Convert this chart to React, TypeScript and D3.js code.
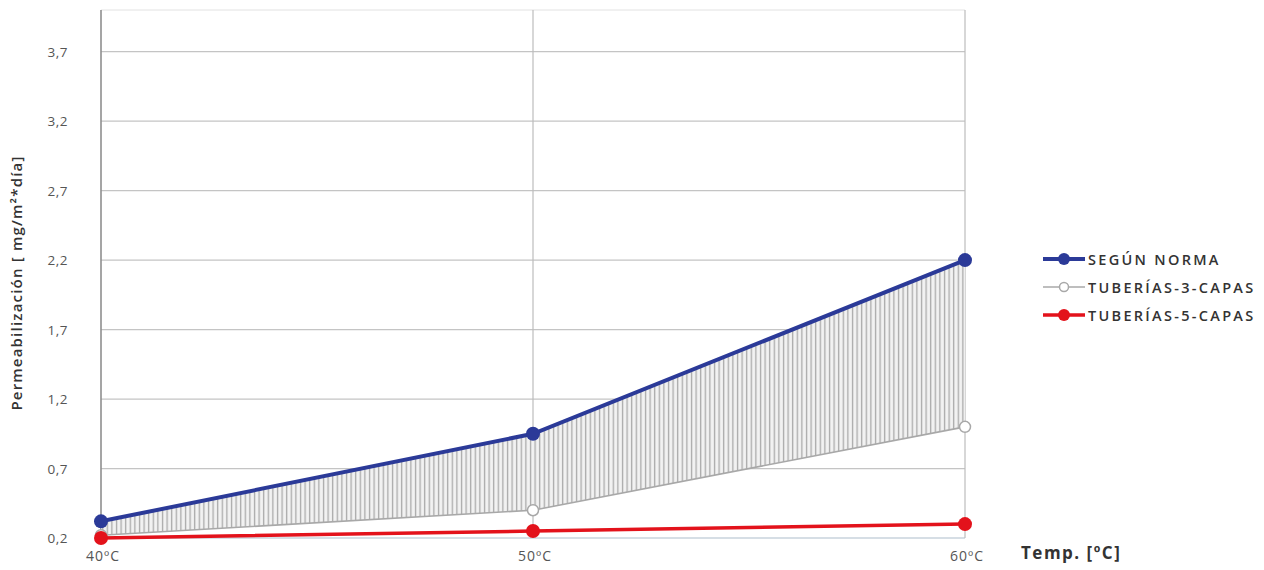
import React from "react";
import * as d3 from "d3";

const categories = ["40ºC", "50ºC", "60ºC"];
const seguNorma = [0.32, 0.95, 2.2];
const tuberias3 = [0.22, 0.4, 1.0];
const tuberias5 = [0.2, 0.25, 0.3];
const yTicks = [0.2, 0.7, 1.2, 1.7, 2.2, 2.7, 3.2, 3.7];
const seriesNames = ["SEGÚN NORMA", "TUBERÍAS-3-CAPAS", "TUBERÍAS-5-CAPAS"];

const W = 1264;
const H = 570;
const BLUE = "#2b3a98";
const RED = "#e3121b";
const GRAY = "#a8a8a8";
const FONT = "'Open Sans', 'DejaVu Sans', sans-serif";

export default function App() {
  const x = d3.scalePoint<string>().domain(categories).range([101, 965]);
  const y = d3.scaleLinear().domain([0.2, 4.0]).range([538, 10]);

  const idx = categories.map((_, i) => i);
  const line = (vals: number[]) =>
    d3
      .line<number>()
      .x((i) => x(categories[i]) as number)
      .y((i) => y(vals[i]))(idx) as string;
  const area = d3
    .area<number>()
    .x((i) => x(categories[i]) as number)
    .y0((i) => y(tuberias3[i]))
    .y1((i) => y(seguNorma[i]))(idx) as string;

  const legendX0 = 1043;
  const legendX1 = 1085;
  const legendY = [259, 287, 315];

  return (
    <svg width={W} height={H} style={{ position: "absolute", left: 0, top: 0, background: "#fff" }}>
      <defs>
        <pattern id="hatch" width={4.6} height={10} patternUnits="userSpaceOnUse">
          <rect width={4.6} height={10} fill="#f2f2f2" />
          <line x1={1.5} y1={0} x2={1.5} y2={10} stroke="#a9a9a9" strokeWidth={1.3} />
        </pattern>
      </defs>
      {/* horizontal gridlines */}
      {yTicks.map((t) => (
        <line key={t} x1={101} x2={965} y1={y(t)} y2={y(t)} stroke={t === 0.2 ? "#c9d3dc" : "#c4c4c4"} strokeWidth={1.3} />
      ))}
      <line x1={101} x2={965} y1={y(4.0)} y2={y(4.0)} stroke="#e2e2e2" strokeWidth={1} />
      {/* vertical category gridlines */}
      {categories.map((c, i) => (
        <line key={c} x1={x(c)} x2={x(c)} y1={10} y2={538} stroke={i === 0 ? "#8f8f8f" : "#bdbdbd"} strokeWidth={i === 0 ? 1.6 : 1.2} />
      ))}
      {/* y tick labels */}
      {yTicks.map((t) => (
        <text key={t} x={68} y={y(t) + 5} textAnchor="end" fontFamily={FONT} fontSize={13.5} letterSpacing={0.5} fill="#555">
          {d3.format(".1f")(t).replace(".", ",")}
        </text>
      ))}
      {/* x tick labels */}
      {categories.map((c) => (
        <text key={c} x={(x(c) as number) + 2} y={561} textAnchor="middle" fontFamily={FONT} fontSize={14} letterSpacing={1} fill="#555">
          {c}
        </text>
      ))}
      {/* axis titles */}
      <text
        transform={`translate(22,283) rotate(-90)`}
        textAnchor="middle"
        fontFamily={FONT}
        fontSize={15}
        fontWeight={600}
        letterSpacing={1.2}
        fill="#333"
      >
        Permeabilización [ mg/m²*día]
      </text>
      <text x={1021} y={559} fontFamily={FONT} fontSize={17} fontWeight={700} letterSpacing={1.5} fill="#333">
        Temp. [ºC]
      </text>
      {/* hatched area between series */}
      <path d={area} fill="url(#hatch)" />
      {/* 3-capas */}
      <path d={line(tuberias3)} fill="none" stroke={GRAY} strokeWidth={1.6} />
      {tuberias3.map((v, i) => (
        <circle key={i} cx={x(categories[i])} cy={y(v)} r={5.5} fill="#fff" stroke={GRAY} strokeWidth={1.5} />
      ))}
      {/* 5-capas */}
      <path d={line(tuberias5)} fill="none" stroke={RED} strokeWidth={3.5} />
      {tuberias5.map((v, i) => (
        <circle key={i} cx={x(categories[i])} cy={y(v)} r={7} fill={RED} />
      ))}
      {/* según norma */}
      <path d={line(seguNorma)} fill="none" stroke={BLUE} strokeWidth={4} />
      {seguNorma.map((v, i) => (
        <circle key={i} cx={x(categories[i])} cy={y(v)} r={7} fill={BLUE} />
      ))}
      {/* legend */}
      {seriesNames.map((name, i) => {
        const ly = legendY[i];
        const cx = (legendX0 + legendX1) / 2;
        return (
          <g key={name}>
            {i === 0 && (
              <>
                <line x1={legendX0} x2={legendX1} y1={ly} y2={ly} stroke={BLUE} strokeWidth={4} />
                <circle cx={cx} cy={ly} r={6} fill={BLUE} />
              </>
            )}
            {i === 1 && (
              <>
                <line x1={legendX0} x2={legendX1} y1={ly} y2={ly} stroke={GRAY} strokeWidth={1.6} />
                <circle cx={cx} cy={ly} r={4.5} fill="#fff" stroke={GRAY} strokeWidth={1.5} />
              </>
            )}
            {i === 2 && (
              <>
                <line x1={legendX0} x2={legendX1} y1={ly} y2={ly} stroke={RED} strokeWidth={3.5} />
                <circle cx={cx} cy={ly} r={6} fill={RED} />
              </>
            )}
            <text x={legendX1 + 3} y={ly + 5.5} fontFamily={FONT} fontSize={14.5} fontWeight={600} letterSpacing={2.3} fill="#333">
              {name}
            </text>
          </g>
        );
      })}
    </svg>
  );
}
